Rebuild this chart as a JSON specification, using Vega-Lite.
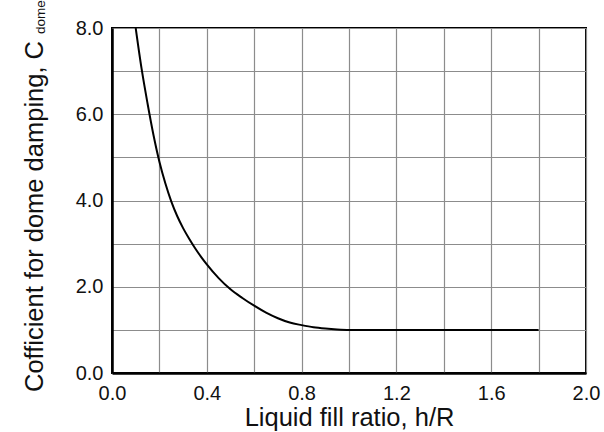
{
  "$schema": "https://vega.github.io/schema/vega-lite/v6.json",
  "autosize": "none",
  "width": 474,
  "height": 345,
  "padding": {"left": 112, "top": 28, "right": 18, "bottom": 59},
  "background": "white",
  "config": {
    "view": {"stroke": "black", "strokeWidth": 2},
    "font": "Liberation Sans",
    "axis": {
      "labelFont": "Liberation Sans",
      "titleFont": "Liberation Sans",
      "labelFontSize": 20,
      "titleFontSize": 25.5,
      "titleFontWeight": "normal",
      "labelColor": "#111",
      "titleColor": "#111",
      "ticks": false,
      "grid": true,
      "gridColor": "#8c8c8c",
      "gridWidth": 1.2,
      "domainColor": "black",
      "domainWidth": 2.5,
      "labelOverlap": false,
      "labelFlush": false
    }
  },
  "data": {
    "values": [
      {"hR": 0.100, "C": 8.0},
      {"hR": 0.125, "C": 7.05},
      {"hR": 0.150, "C": 6.25},
      {"hR": 0.175, "C": 5.52},
      {"hR": 0.200, "C": 4.9},
      {"hR": 0.225, "C": 4.4},
      {"hR": 0.250, "C": 3.98},
      {"hR": 0.275, "C": 3.64},
      {"hR": 0.300, "C": 3.36},
      {"hR": 0.325, "C": 3.12},
      {"hR": 0.350, "C": 2.9},
      {"hR": 0.375, "C": 2.7},
      {"hR": 0.400, "C": 2.52},
      {"hR": 0.450, "C": 2.2},
      {"hR": 0.500, "C": 1.94},
      {"hR": 0.550, "C": 1.74},
      {"hR": 0.600, "C": 1.56},
      {"hR": 0.650, "C": 1.40},
      {"hR": 0.700, "C": 1.27},
      {"hR": 0.750, "C": 1.17},
      {"hR": 0.800, "C": 1.11},
      {"hR": 0.850, "C": 1.06},
      {"hR": 0.900, "C": 1.03},
      {"hR": 0.950, "C": 1.01},
      {"hR": 1.000, "C": 1.0},
      {"hR": 1.200, "C": 1.0},
      {"hR": 1.400, "C": 1.0},
      {"hR": 1.600, "C": 1.0},
      {"hR": 1.800, "C": 1.0}
    ]
  },
  "layer": [
    {
      "mark": {"type": "line", "color": "black", "strokeWidth": 2, "interpolate": "monotone", "clip": true},
      "encoding": {
        "x": {
          "field": "hR", "type": "quantitative",
          "scale": {"domain": [0, 2], "nice": false, "zero": true},
          "axis": {
            "title": "Liquid fill ratio, h/R",
            "values": [0, 0.2, 0.4, 0.6, 0.8, 1.0, 1.2, 1.4, 1.6, 1.8, 2.0],
            "labelExpr": "round(datum.value*10) % 4 == 0 ? format(datum.value, '.1f') : ''",
            "labelPadding": 10,
            "titlePadding": 2
          }
        },
        "y": {
          "field": "C", "type": "quantitative",
          "scale": {"domain": [0, 8], "nice": false},
          "axis": {
            "title": "Cofficient for dome damping, C",
            "values": [0, 1, 2, 3, 4, 5, 6, 7, 8],
            "labelExpr": "datum.value % 2 == 0 ? format(datum.value, '.1f') : ''",
            "labelPadding": 9,
            "titleX": -65,
            "titleY": 188
          }
        }
      }
    },
    {
      "data": {"values": [{"t": "dome"}]},
      "mark": {"type": "text", "angle": 270, "align": "left", "baseline": "alphabetic", "fontSize": 13.5, "font": "Liberation Sans", "color": "#111", "dx": -6, "dy": -67},
      "encoding": {
        "x": {"datum": 0},
        "y": {"datum": 8},
        "text": {"field": "t"}
      }
    }
  ]
}
